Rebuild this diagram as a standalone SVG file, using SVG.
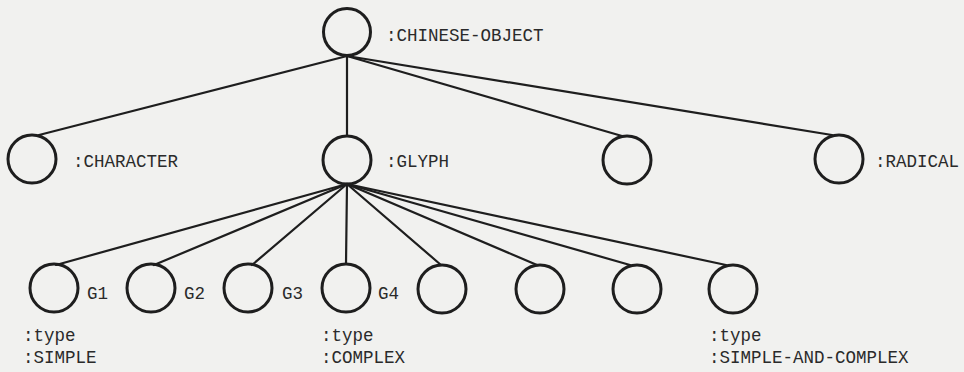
<svg xmlns="http://www.w3.org/2000/svg" width="964" height="372" viewBox="0 0 964 372">
<style>
.bg{fill:#f1f1ef}
.node circle{fill:none;stroke:#1e1e1e;stroke-width:3}
.conn line{stroke:#1e1e1e;stroke-width:2.2;stroke-linecap:round}
text{font-family:"Liberation Mono","Courier New",monospace;font-size:17.5px;fill:#2a2a2a}
</style>
<rect class="bg" x="0" y="0" width="964" height="372"/>
<g id="connectors" class="conn">
<line x1="347" y1="56" x2="39" y2="135"/>
<line x1="347" y1="56" x2="347" y2="135"/>
<line x1="347" y1="56" x2="622" y2="136"/>
<line x1="347" y1="56" x2="832" y2="135"/>
<line x1="347" y1="184" x2="56" y2="265"/>
<line x1="347" y1="184" x2="154" y2="265"/>
<line x1="347" y1="184" x2="252" y2="265"/>
<line x1="347" y1="184" x2="346" y2="264"/>
<line x1="347" y1="184" x2="441" y2="265"/>
<line x1="347" y1="184" x2="537" y2="265"/>
<line x1="347" y1="184" x2="630" y2="265"/>
<line x1="347" y1="184" x2="726" y2="265"/>
</g>
<g id="chinese-object" class="node"><circle cx="347" cy="32" r="23.5"/><text x="386" y="41">:CHINESE-OBJECT</text></g>
<g id="character" class="node"><circle cx="32" cy="159" r="24"/><text x="73" y="167">:CHARACTER</text></g>
<g id="glyph" class="node"><circle cx="347" cy="160" r="24"/><text x="386" y="167">:GLYPH</text></g>
<g id="unnamed" class="node"><circle cx="627" cy="160" r="24"/></g>
<g id="radical" class="node"><circle cx="839" cy="159" r="24"/><text x="875" y="167">:RADICAL</text></g>
<g id="g1" class="node"><circle cx="54" cy="288" r="24"/><text x="87" y="299">G1</text><text x="23" y="341">:type</text><text x="23" y="363">:SIMPLE</text></g>
<g id="g2" class="node"><circle cx="151" cy="288" r="24"/><text x="184" y="299">G2</text></g>
<g id="g3" class="node"><circle cx="248" cy="288" r="24"/><text x="282" y="299">G3</text></g>
<g id="g4" class="node"><circle cx="346" cy="288" r="24"/><text x="378" y="299">G4</text><text x="321" y="341">:type</text><text x="321" y="363">:COMPLEX</text></g>
<g id="g5" class="node"><circle cx="442" cy="289" r="24"/></g>
<g id="g6" class="node"><circle cx="540" cy="289" r="24"/></g>
<g id="g7" class="node"><circle cx="637" cy="289" r="24"/></g>
<g id="g8" class="node"><circle cx="733" cy="289" r="24"/><text x="709" y="341">:type</text><text x="709" y="363">:SIMPLE-AND-COMPLEX</text></g>
</svg>
